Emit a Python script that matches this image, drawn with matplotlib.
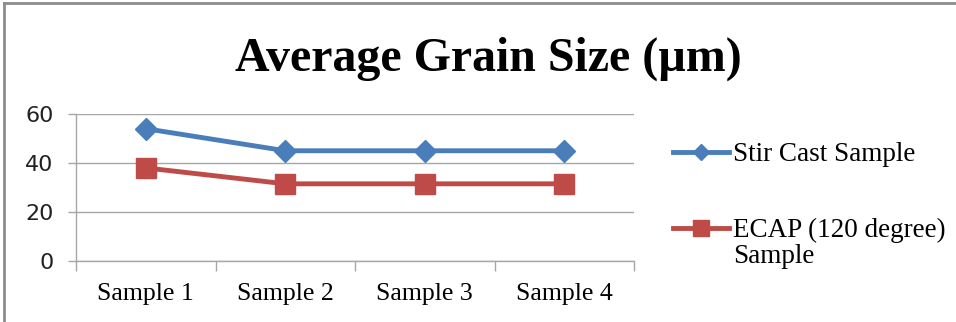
import matplotlib
matplotlib.use("Agg")
import matplotlib.pyplot as plt
from matplotlib.lines import Line2D
import numpy as np

categories = ["Sample 1", "Sample 2", "Sample 3", "Sample 4"]
stir_cast = [54, 45, 45, 45]
ecap = [38, 31.5, 31.5, 31.5]
series_names = ["Stir Cast Sample", "ECAP (120 degree)\nSample"]
y_ticks = [0, 20, 40, 60]
title = "Average Grain Size (\u00b5m)"

W, H = 956, 322
fig = plt.figure(figsize=(W / 100, H / 100), dpi=100)
fig.patch.set_facecolor("white")

# outer border (left and top)
fig.add_artist(Line2D([4 / W, 4 / W], [0, 1 - 3 / H], transform=fig.transFigure,
                      color="#8c8c8c", lw=2))
fig.add_artist(Line2D([4 / W, 1], [1 - 3 / H, 1 - 3 / H], transform=fig.transFigure,
                      color="#8c8c8c", lw=2))

ax = fig.add_axes([76 / W, 61 / H, (634 - 76) / W, (261 - 114) / H])
x = np.arange(len(categories))
blue = "#4a7ebb"
red = "#be4b48"
ax.plot(x, stir_cast, color=blue, lw=3.5, marker="D", ms=11, zorder=3)
ax.plot(x, ecap, color=red, lw=3.5, marker="s", ms=15, zorder=3)

ax.set_xlim(-0.5, len(categories) - 0.5)
ax.set_ylim(0, 60)
grid_c = "#a6a6a6"
ax.set_yticks(y_ticks)
ax.set_yticklabels([str(v) for v in y_ticks], fontsize=16, family="DejaVu Sans",
                   color="#222222")
ax.yaxis.grid(True, color=grid_c, lw=1)
ax.set_axisbelow(True)
ax.tick_params(axis="y", length=6, color=grid_c, pad=10, width=1)

ax.set_xticks(np.arange(len(categories) + 1) - 0.5)
ax.set_xticklabels([])
ax.tick_params(axis="x", which="major", length=7, color=grid_c, width=1)
ax.set_xticks(x, minor=True)
ax.set_xticklabels(categories, minor=True, fontsize=18.5, family="Liberation Serif")
ax.tick_params(axis="x", which="minor", length=0, pad=16)

for s in ["top", "right"]:
    ax.spines[s].set_visible(False)
for s in ["left", "bottom"]:
    ax.spines[s].set_color(grid_c)
    ax.spines[s].set_linewidth(1)

fig.text(488 / W, 1 - 59 / H, title, ha="center", va="center", fontsize=34.5,
         fontweight="bold", family="Liberation Serif")

# legend drawn manually
leg_y = [152, 228]
colors = [blue, red]
markers = [("D", 8), ("s", 12)]
for yy, c, (m, ms), name in zip(leg_y, colors, markers, series_names):
    fy = 1 - yy / H
    fig.add_artist(Line2D([673 / W, 729 / W], [fy, fy], transform=fig.transFigure,
                          color=c, lw=3.5))
    fig.add_artist(Line2D([701 / W], [fy], transform=fig.transFigure, color=c,
                          marker=m, ms=ms, lw=0))
    fig.text(733 / W, fy + 10 / H, name, ha="left", va="top", fontsize=19.5,
             family="Liberation Serif", linespacing=1.05)

fig.savefig("out.png", dpi=100)
